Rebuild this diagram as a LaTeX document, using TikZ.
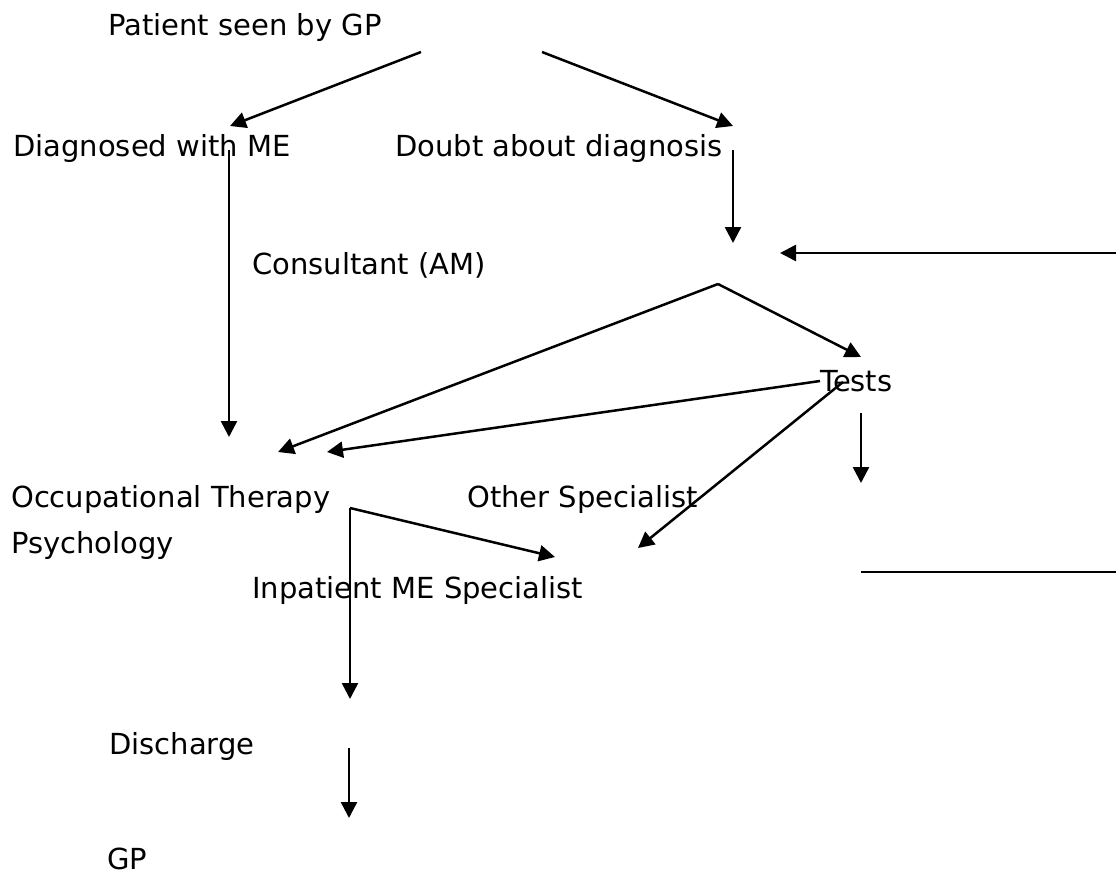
\documentclass[tikz,border=0pt]{standalone}
\usepackage{fontspec}
\setmainfont{DejaVu Sans}
\usetikzlibrary{arrows.meta}
\tikzset{
  lbl/.style={anchor=base west, inner sep=0pt, text depth=0pt, font=\fontsize{29pt}{34pt}\selectfont},
  conn/.style={line width=2.5pt, -{Triangle[length=16pt,width=16pt]}},
  plain/.style={line width=2.5pt}
}
\begin{document}
\begin{tikzpicture}[x=1pt,y=-1pt]
\useasboundingbox (0,0) rectangle (1116,875);
% texts
\node[lbl] (pat) at (108,36) {Patient seen by GP};
\node[lbl] (dx) at (13,156) {Diagnosed with ME};
\node[lbl] (doubt) at (395,156) {Doubt about diagnosis};
\node[lbl] (cons) at (252,274) {Consultant (AM)};
\node[lbl] (tests) at (820,391) {Tests};
\node[lbl] (ot) at (11,507) {Occupational Therapy};
\node[lbl] (other) at (467,507) {Other Specialist};
\node[lbl] (psy) at (11,553) {Psychology};
\node[lbl] (inp) at (252,598) {Inpatient ME Specialist};
\node[lbl] (dis) at (109,754) {Discharge};
\node[lbl] (gp) at (107,869) {GP};
% free ends
\coordinate (a1s) at (421,52);  \coordinate (a1e) at (230,126);
\coordinate (a2s) at (542,52);  \coordinate (a2e) at (733,126);
\coordinate (a3s) at (229,150); \coordinate (a3e) at (229,437);
\coordinate (a4s) at (733,150); \coordinate (a4e) at (733,243);
\coordinate (a5s) at (1116,253); \coordinate (a5e) at (780,253);
\coordinate (apex) at (718,284);
\coordinate (otin1) at (278,452); \coordinate (otin2) at (327,452);
\coordinate (testin) at (861,357);
\coordinate (t1s) at (820,381);
\coordinate (t2s) at (843,382); \coordinate (t2e) at (638,548);
\coordinate (t3s) at (861,413); \coordinate (t3e) at (861,483);
\coordinate (corner) at (350,508);
\coordinate (cdown) at (350,699);
\coordinate (inpin) at (555,557);
\coordinate (h1) at (861,572); \coordinate (h2) at (1116,572);
\coordinate (d1) at (349,748); \coordinate (d2) at (349,818);
% connectors
\draw[conn] (a1s) -- (a1e);
\draw[conn] (a2s) -- (a2e);
\draw[conn] (a3s) -- (a3e);
\draw[conn] (a4s) -- (a4e);
\draw[conn] (a5s) -- (a5e);
\draw[conn] (apex) -- (otin1);
\draw[conn] (apex) -- (testin);
\draw[conn] (t1s) -- (otin2);
\draw[conn] (t2s) -- (t2e);
\draw[conn] (t3s) -- (t3e);
\draw[conn] (corner) -- (cdown);
\draw[conn] (corner) -- (inpin);
\draw[plain] (h1) -- (h2);
\draw[conn] (d1) -- (d2);
\end{tikzpicture}
\end{document}
